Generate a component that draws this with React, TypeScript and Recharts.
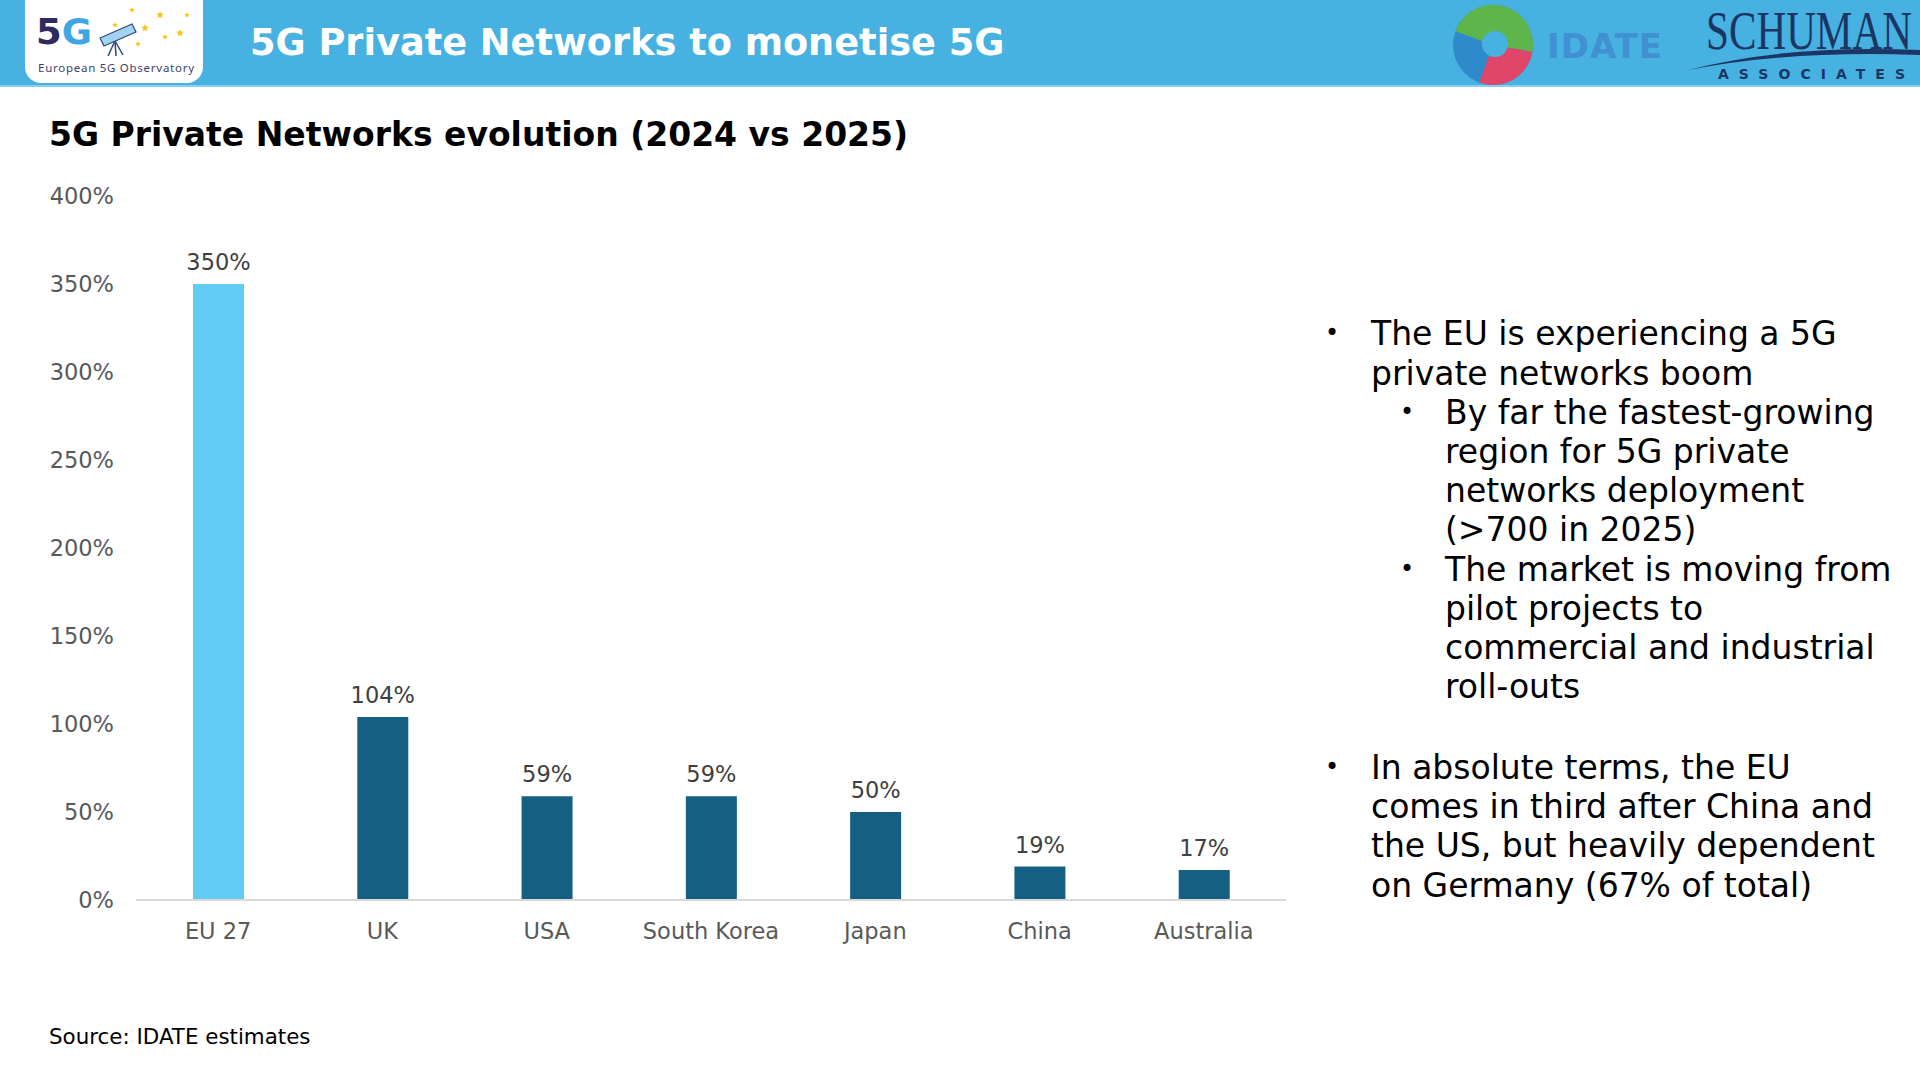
import React from 'react';
import { BarChart, Bar, XAxis, YAxis, Cell, LabelList } from 'recharts';

const categories = ['EU 27', 'UK', 'USA', 'South Korea', 'Japan', 'China', 'Australia'];
const growth = [350, 104, 59, 59, 50, 19, 17];
const yTicks = [0, 50, 100, 150, 200, 250, 300, 350, 400];
const highlighted = 'EU 27';

const headerTitle = '5G Private Networks to monetise 5G';
const chartTitle = '5G Private Networks evolution (2024 vs 2025)';
const sourceNote = 'Source: IDATE estimates';

const bulletBlocks = [
  {
    level: 1,
    lines: ['The EU is experiencing a 5G', 'private networks boom'],
  },
  {
    level: 2,
    lines: ['By far the fastest-growing', 'region for 5G private', 'networks deployment', '(>700 in 2025)'],
  },
  {
    level: 2,
    lines: ['The market is moving from', 'pilot projects to', 'commercial and industrial', 'roll-outs'],
  },
];
const bulletBlocks2 = [
  {
    level: 1,
    lines: ['In absolute terms, the EU', 'comes in third after China and', 'the US, but heavily dependent', 'on Germany (67% of total)'],
  },
];

const data = categories.map((name, i) => ({ name, value: growth[i] }));

const FONT = '"DejaVu Sans", Verdana, sans-serif';
const BAND = '#47B1E1';
const DARK = '#156082';
const LIGHT = '#61CBF3';

const pct = (v: any) => `${v}%`;

function BulletText({ blocks, top }: { blocks: any[]; top: number }) {
  const lh = 39.2;
  const rows: React.ReactNode[] = [];
  let line = 0;
  blocks.forEach((b, bi) => {
    const textX = b.level === 1 ? 1371 : 1445;
    const bulletX = b.level === 1 ? 1322 : 1397;
    b.lines.forEach((t: string, li: number) => {
      const y = top + line * lh;
      if (li === 0) {
        rows.push(
          <div
            key={`b${bi}`}
            style={{ position: 'absolute', left: bulletX, top: y, width: 20, textAlign: 'center', lineHeight: `${lh}px`, fontSize: 24 }}
          >
            •
          </div>
        );
      }
      rows.push(
        <div key={`t${bi}-${li}`} style={{ position: 'absolute', left: textX, top: y, lineHeight: `${lh}px`, whiteSpace: 'nowrap' }}>
          {t}
        </div>
      );
      line += 1;
    });
  });
  return <>{rows}</>;
}

function Header() {
  return (
    <svg width={1920} height={90} style={{ position: 'absolute', left: 0, top: 0 }}>
      <rect x={0} y={0} width={1920} height={86} fill={BAND} />
      <rect x={0} y={85} width={1920} height={2} fill="#8ACDEF" />
      {/* left logo */}
      <rect x={25} y={-20} width={178} height={103} rx={16} fill="#ffffff" />
      <text x={36} y={44} fontFamily={FONT} fontWeight={700} fontSize={36} textLength={56} lengthAdjust="spacingAndGlyphs">
        <tspan fill="#2E2A5E">5</tspan>
        <tspan fill="#3FA6E6">G</tspan>
      </text>
      <g>
        <polygon points="100,38 132,24 136,32 104,46" fill="#9FD3F0" stroke="#2E4A7A" strokeWidth={1.2} />
        <line x1={115} y1={41} x2={108} y2={56} stroke="#2E4A7A" strokeWidth={1.5} />
        <line x1={115} y1={41} x2={116} y2={56} stroke="#2E4A7A" strokeWidth={1.5} />
        <line x1={115} y1={41} x2={123} y2={55} stroke="#2E4A7A" strokeWidth={1.5} />
      </g>
      {[
        [132, 10, 3],
        [160, 15, 4],
        [187, 15, 3],
        [145, 28, 4],
        [115, 25, 3],
        [165, 37, 3],
        [180, 33, 4],
        [138, 44, 3],
      ].map(([x, y, r], i) => (
        <polygon
          key={i}
          points={[0, 1, 2, 3, 4, 5, 6, 7, 8, 9]
            .map((k) => {
              const a = (Math.PI / 5) * k - Math.PI / 2;
              const rr = k % 2 === 0 ? r : r * 0.45;
              return `${x + rr * Math.cos(a)},${y + rr * Math.sin(a)}`;
            })
            .join(' ')}
          fill="#F5C518"
        />
      ))}
      <text x={38} y={72} fontFamily='"Noto Sans", sans-serif' fontSize={11.5} fill="#3C3F6E" textLength={156}>
        European 5G Observatory
      </text>
      {/* title */}
      <text x={250} y={55} fontFamily={FONT} fontWeight={700} fontSize={36.7} fill="#ffffff">
        {headerTitle}
      </text>
      {/* IDATE logo */}
      <circle cx={1493} cy={45} r={40} fill="#2F8ACB" />
      <path d="M1493 45 L1455.4 31.3 A40 40 0 0 1 1532.4 52 Z" fill="#5DB54B" />
      <path d="M1493 45 L1532.4 52 A40 40 0 0 1 1479.3 82.6 Z" fill="#E0456A" />
      <circle cx={1495} cy={44} r={13} fill={BAND} />
      <text x={1547} y={58} fontFamily={FONT} fontWeight={700} fontSize={34} fill="#4090D2" textLength={115}>
        IDATE
      </text>
      {/* Schuman logo */}
      <text x={1706} y={49} fontFamily='"Liberation Serif", serif' fontSize={54} fill="#1C3664" textLength={206} lengthAdjust="spacingAndGlyphs">
        SCHUMAN
      </text>
      <path d="M1688 70 Q1790 44 1920 50 L1920 55 Q1790 50 1688 70 Z" fill="#1C3664" />
      <text x={1718} y={79} fontFamily={FONT} fontWeight={700} fontSize={14} fill="#1C3664" textLength={187}>
        ASSOCIATES
      </text>
    </svg>
  );
}

export default function App() {
  return (
    <div
      style={{
        position: 'absolute',
        left: 0,
        top: 0,
        width: 1920,
        height: 1080,
        background: '#ffffff',
        overflow: 'hidden',
        fontFamily: FONT,
        color: '#000',
      }}
    >
      <Header />
      <div
        style={{
          position: 'absolute',
          left: 49,
          top: 118,
          fontSize: 33,
          lineHeight: '33px',
          fontWeight: 700,
          whiteSpace: 'nowrap',
        }}
      >
        {chartTitle}
      </div>
      <div style={{ position: 'absolute', left: 0, top: 0, width: 1300, height: 960 }}>
        <BarChart width={1300} height={960} data={data} margin={{ top: 196, right: 14, bottom: 0, left: 0 }}>
          <XAxis
            dataKey="name"
            interval={0}
            height={60}
            tickLine={false}
            tickSize={0}
            tickMargin={23}
            axisLine={{ stroke: '#D9D9D9', strokeWidth: 2 }}
            tick={{ fill: '#595959', fontSize: 22.5, fontFamily: FONT }}
          />
          <YAxis
            domain={[0, 400]}
            ticks={yTicks}
            width={136}
            axisLine={false}
            tickLine={false}
            tickSize={0}
            tickMargin={22}
            tickFormatter={pct}
            tick={{ fill: '#595959', fontSize: 22.5, fontFamily: FONT }}
          />
          <Bar dataKey="value" barSize={51} isAnimationActive={false}>
            {data.map((d) => (
              <Cell key={d.name} fill={d.name === highlighted ? LIGHT : DARK} />
            ))}
            <LabelList
              dataKey="value"
              position="top"
              offset={14}
              formatter={pct}
              style={{ fill: '#404040', fontSize: 22.5, fontFamily: FONT }}
            />
          </Bar>
        </BarChart>
      </div>
      <div style={{ fontSize: 33, color: '#000' }}>
        <BulletText blocks={bulletBlocks} top={314.4} />
        <BulletText blocks={bulletBlocks2} top={748} />
      </div>
      <div
        style={{
          position: 'absolute',
          left: 49,
          top: 1026,
          fontSize: 21.4,
          lineHeight: '22px',
          whiteSpace: 'nowrap',
        }}
      >
        {sourceNote}
      </div>
    </div>
  );
}
